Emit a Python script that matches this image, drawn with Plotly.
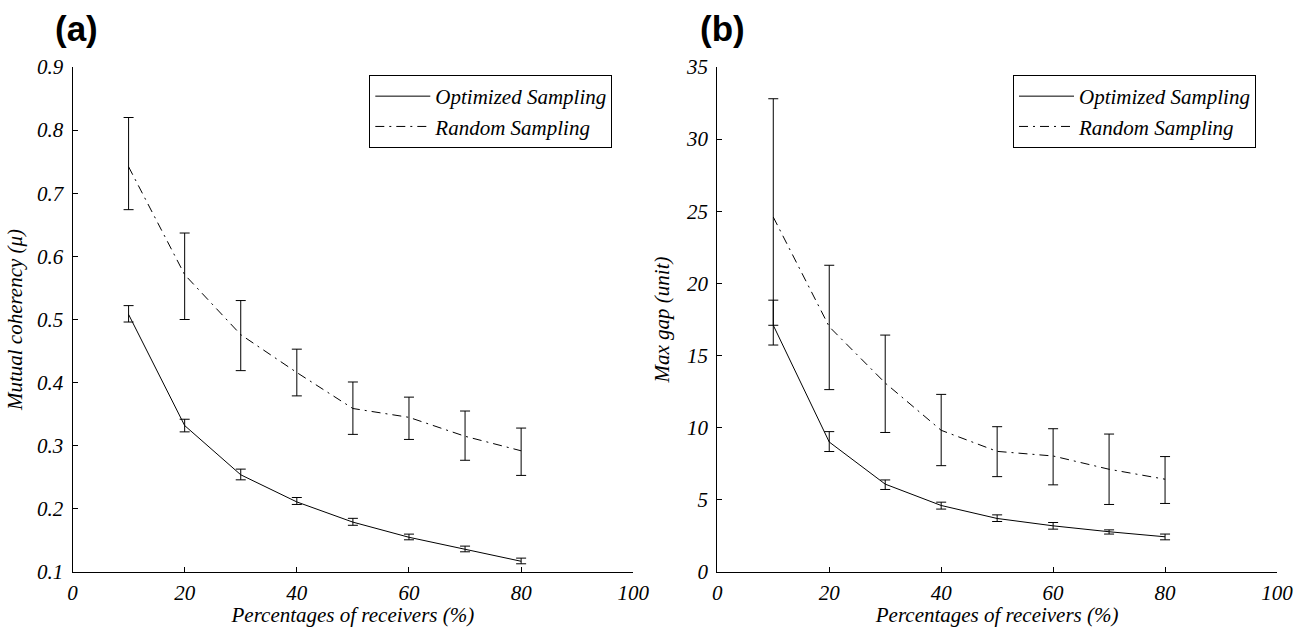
import plotly.graph_objects as go

# ---- data ----
pct = [10, 20, 30, 40, 50, 60, 70, 80]

a_opt = [0.508, 0.332, 0.254, 0.211, 0.179, 0.155, 0.136, 0.117]
a_opt_hi = [0.522, 0.342, 0.263, 0.218, 0.185, 0.160, 0.141, 0.122]
a_opt_lo = [0.496, 0.322, 0.246, 0.207, 0.174, 0.151, 0.132, 0.113]
a_rand = [0.742, 0.571, 0.476, 0.416, 0.359, 0.345, 0.315, 0.292]
a_rand_hi = [0.820, 0.637, 0.530, 0.453, 0.401, 0.377, 0.355, 0.328]
a_rand_lo = [0.674, 0.500, 0.419, 0.379, 0.318, 0.310, 0.277, 0.253]

b_opt = [17.1, 9.01, 6.09, 4.61, 3.71, 3.20, 2.79, 2.44]
b_opt_hi = [18.84, 9.73, 6.38, 4.84, 3.96, 3.43, 2.92, 2.63]
b_opt_lo = [15.73, 8.35, 5.72, 4.36, 3.50, 2.97, 2.63, 2.23]
b_rand = [24.6, 17.0, 13.1, 9.82, 8.36, 8.04, 7.12, 6.43]
b_rand_hi = [32.8, 21.26, 16.42, 12.31, 10.07, 9.93, 9.56, 8.00]
b_rand_lo = [17.1, 12.64, 9.67, 7.37, 6.61, 6.04, 4.68, 4.75]

names = ["Optimized Sampling", "Random Sampling"]
xlabel = "Percentages of receivers (%)"
ylabel_a = "Mutual coherency (\u03bc)"
ylabel_b = "Max gap (unit)"

W, H = 1308, 627
SERIF = "'Liberation Serif', 'Times New Roman', Times, serif"
DASHDOT = "9px,5px,2px,5px"
FS = 21


def err(c, hi, lo):
    return dict(type="data", symmetric=False,
                array=[h - v for h, v in zip(hi, c)],
                arrayminus=[v - l for v, l in zip(c, lo)],
                color="black", thickness=1, width=5)


fig = go.Figure()
fig.add_trace(go.Scatter(x=pct, y=a_opt, mode="lines", name=names[0],
                         line=dict(color="black", width=1),
                         error_y=err(a_opt, a_opt_hi, a_opt_lo),
                         xaxis="x", yaxis="y", legend="legend"))
fig.add_trace(go.Scatter(x=pct, y=a_rand, mode="lines", name=names[1],
                         line=dict(color="black", width=1, dash=DASHDOT),
                         error_y=err(a_rand, a_rand_hi, a_rand_lo),
                         xaxis="x", yaxis="y", legend="legend"))
fig.add_trace(go.Scatter(x=pct, y=b_opt, mode="lines", name=names[0],
                         line=dict(color="black", width=1),
                         error_y=err(b_opt, b_opt_hi, b_opt_lo),
                         xaxis="x2", yaxis="y2", legend="legend2"))
fig.add_trace(go.Scatter(x=pct, y=b_rand, mode="lines", name=names[1],
                         line=dict(color="black", width=1, dash=DASHDOT),
                         error_y=err(b_rand, b_rand_hi, b_rand_lo),
                         xaxis="x2", yaxis="y2", legend="legend2"))

tickfont = dict(family=SERIF, size=FS, color="black", style="italic")
titlefont = dict(family=SERIF, size=FS, color="black", style="italic")
common = dict(showline=True, linecolor="black", linewidth=1, showgrid=False,
              zeroline=False, ticks="inside", ticklen=5, tickcolor="black",
              tickwidth=1, tickfont=tickfont, automargin=False)

ytop = 1 - 67 / H
ybot = 1 - 572 / H

fig.update_layout(
    width=W, height=H,
    margin=dict(l=0, r=0, t=0, b=0),
    paper_bgcolor="white", plot_bgcolor="white",
    xaxis=dict(domain=[72.5 / W, 633.3 / W], range=[0, 100], dtick=20,
               anchor="y", title=dict(text=xlabel, font=titlefont, standoff=0),
               ticklabelstandoff=2, **common),
    yaxis=dict(domain=[ybot, ytop], range=[0.1, 0.9], dtick=0.1, tickformat=".1f",
               anchor="x", title=dict(text=ylabel_a, font=titlefont, standoff=8),
               ticklabelstandoff=4, **common),
    xaxis2=dict(domain=[717.3 / W, 1277 / W], range=[0, 100], dtick=20,
                anchor="y2", title=dict(text=xlabel, font=titlefont, standoff=0),
                ticklabelstandoff=2, **common),
    yaxis2=dict(domain=[ybot, ytop], range=[0, 35], dtick=5,
                anchor="x2", title=dict(text=ylabel_b, font=titlefont, standoff=10),
                ticklabelstandoff=4, **common),
    legend=dict(x=369.3 / W, y=1 - 75 / H, xanchor="left", yanchor="top",
                bordercolor="black", borderwidth=1, bgcolor="white",
                font=dict(family=SERIF, size=FS, style="italic", color="black"),
                itemwidth=55, tracegroupgap=0),
    legend2=dict(x=1013 / W, y=1 - 75 / H, xanchor="left", yanchor="top",
                 bordercolor="black", borderwidth=1, bgcolor="white",
                 font=dict(family=SERIF, size=FS, style="italic", color="black"),
                 itemwidth=55, tracegroupgap=0),
    annotations=[
        dict(text="<b>(a)</b>", x=76 / W, y=1 - 29 / H, xref="paper", yref="paper",
             xanchor="center", yanchor="middle", showarrow=False,
             font=dict(family="Liberation Sans", size=35, color="black")),
        dict(text="<b>(b)</b>", x=722 / W, y=1 - 29 / H, xref="paper", yref="paper",
             xanchor="center", yanchor="middle", showarrow=False,
             font=dict(family="Liberation Sans", size=35, color="black")),
    ],
)

fig.write_html("out.html")
